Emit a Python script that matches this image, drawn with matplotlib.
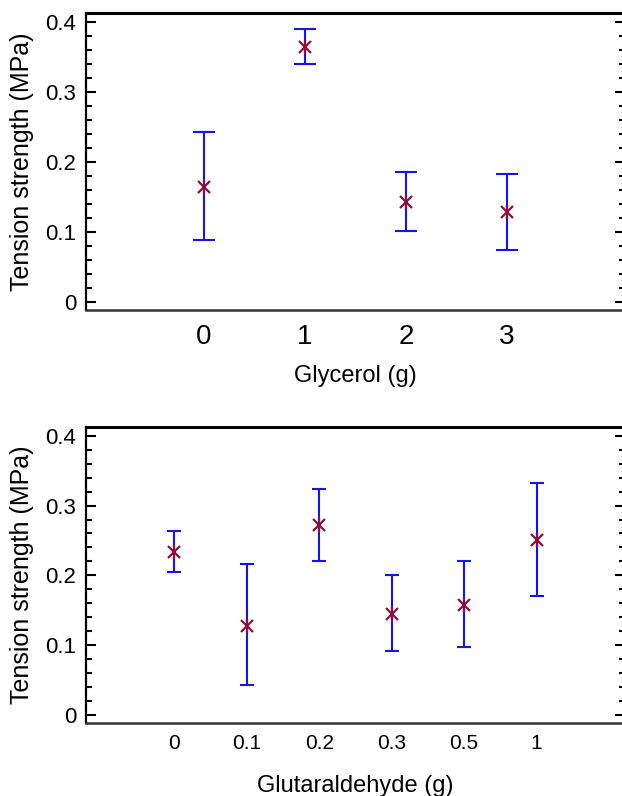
import matplotlib
matplotlib.use('Agg')
import matplotlib.pyplot as plt
from matplotlib.ticker import MultipleLocator

plt.rcParams['font.family'] = ['Liberation Sans', 'DejaVu Sans']

# Glycerol series
glycerol_labels = ['0', '1', '2', '3']
glycerol_mean = [0.164, 0.364, 0.143, 0.128]
glycerol_low = [0.088, 0.339, 0.102, 0.074]
glycerol_high = [0.243, 0.389, 0.186, 0.183]

# Glutaraldehyde series
glut_labels = ['0', '0.1', '0.2', '0.3', '0.5', '1']
glut_mean = [0.234, 0.128, 0.272, 0.145, 0.158, 0.251]
glut_low = [0.205, 0.043, 0.220, 0.091, 0.097, 0.170]
glut_high = [0.264, 0.216, 0.323, 0.200, 0.221, 0.332]

bar_color = '#1414f0'
mark_color = '#8a1040'

fig = plt.figure(figsize=(6.22, 7.96), dpi=100)
ax1 = fig.add_axes([0.1383, 0.6106, 0.8665, 0.3731])
ax2 = fig.add_axes([0.1383, 0.0917, 0.8665, 0.3719])


def draw(ax, labels, mean, low, high, xlim, capsize, xlabel, xfs, xpad, label_y):
    x = list(range(len(labels)))
    err = [[m - l for m, l in zip(mean, low)], [h - m for m, h in zip(mean, high)]]
    ax.errorbar(x, mean, yerr=err, fmt='none', ecolor=bar_color,
                elinewidth=1.5, capsize=capsize, capthick=1.5)
    # asterisk-like marker: x plus vertical bar
    ax.plot(x, mean, ls='none', marker='x', ms=8, mew=1.6, color=mark_color, zorder=3)
    ax.plot(x, mean, ls='none', marker='|', ms=10, mew=1.6, color=mark_color, zorder=3)

    ax.set_xlim(*xlim)
    ax.set_ylim(-0.0114, 0.4125)

    ax.set_xticks(x)
    ax.set_xticklabels(labels)
    ax.tick_params(axis='x', length=0, labelsize=xfs, pad=xpad)
    ax.yaxis.set_minor_locator(MultipleLocator(0.02))
    ax.set_yticks([0, 0.1, 0.2, 0.3, 0.4])
    ax.set_yticklabels(['0', '0.1', '0.2', '0.3', '0.4'])
    ax.tick_params(axis='y', which='both', direction='in', left=True, right=True,
                   labelsize=16, pad=7, width=1.5)
    ax.tick_params(axis='y', which='major', length=7.5)
    ax.tick_params(axis='y', which='minor', length=4.5)

    ax.spines['top'].set_linewidth(2.2)
    ax.spines['left'].set_linewidth(1.6)
    ax.spines['bottom'].set_linewidth(1.8)
    ax.spines['bottom'].set_color('#333333')

    ax.set_ylabel('Tension strength (MPa)', fontsize=18)
    ax.yaxis.set_label_coords(-0.096, 0.5)
    ax.set_xlabel(xlabel, fontsize=17)
    ax.xaxis.set_label_coords(0.5, label_y)


draw(ax1, glycerol_labels, glycerol_mean, glycerol_low, glycerol_high,
     xlim=(-1.17, 4.17), capsize=8, xlabel='Glycerol (g)', xfs=20, xpad=10,
     label_y=-0.186)
draw(ax2, glut_labels, glut_mean, glut_low, glut_high,
     xlim=(-1.22, 6.22), capsize=5, xlabel='Glutaraldehyde (g)', xfs=15, xpad=8,
     label_y=-0.176)

plt.savefig('out.png', dpi=100)
